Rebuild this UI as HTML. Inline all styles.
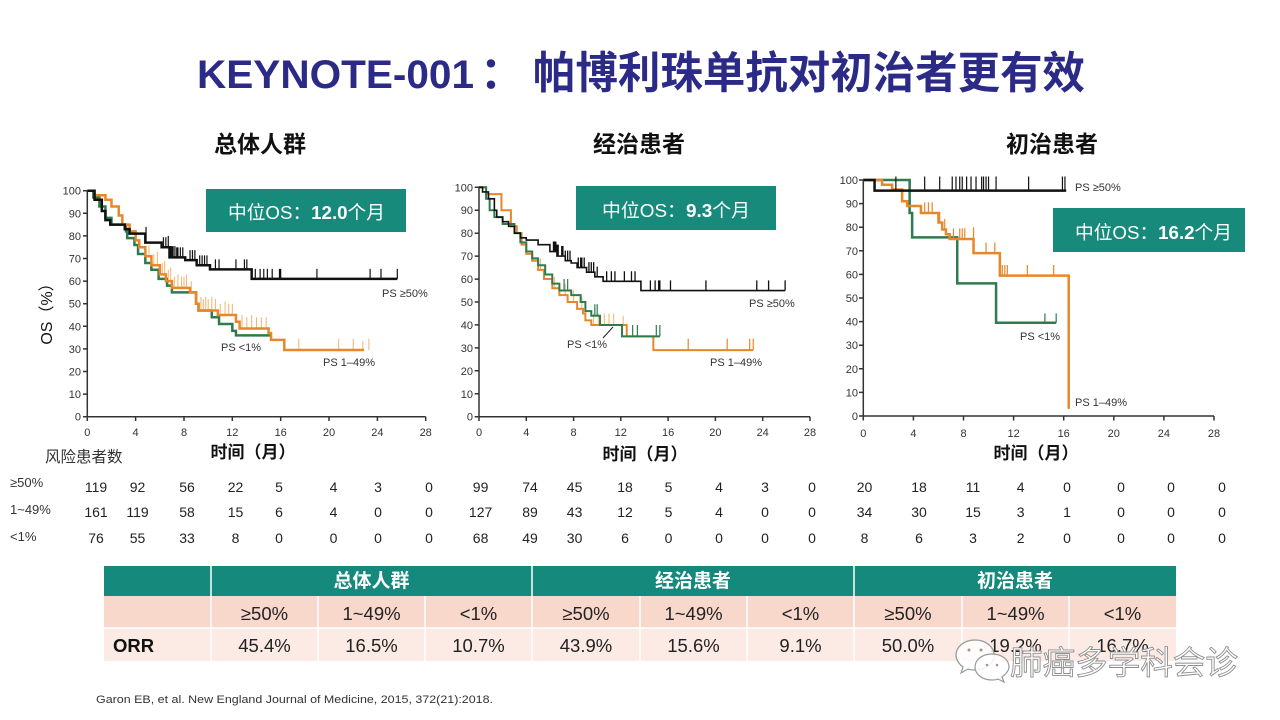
<!DOCTYPE html>
<html><head><meta charset="utf-8"><style>
html,body{margin:0;padding:0;background:#fff;}
svg{display:block;}
.c path{vector-effect:non-scaling-stroke;fill:none;}
text{font-family:"Liberation Sans","Noto Sans CJK SC",sans-serif;}
.n{font-family:"Liberation Sans",sans-serif;font-size:11px;fill:#333;}
.ax{stroke:#333;stroke-width:1.5;fill:none;}
.r{font-size:14px;fill:#222;text-anchor:middle;}
.t{font-size:18.5px;fill:#222;text-anchor:middle;}
</style></head><body>
<svg width="1280" height="720" viewBox="0 0 1280 720" xmlns="http://www.w3.org/2000/svg">
<rect width="1280" height="720" fill="#fff"/>

<!-- Title -->
<g font-weight="bold" fill="#2B2A86">
<text x="197" y="88" font-size="40" textLength="277" lengthAdjust="spacingAndGlyphs">KEYNOTE-001</text>
<text x="480" y="88" font-size="44">：</text>
<text x="533" y="88" font-size="44" textLength="552" lengthAdjust="spacingAndGlyphs">帕博利珠单抗对初治者更有效</text>
</g>

<!-- Subtitles -->
<g font-size="23" font-weight="bold" fill="#111" text-anchor="middle">
<text x="260" y="152">总体人群</text>
<text x="639" y="152">经治患者</text>
<text x="1052" y="152">初治患者</text>
</g>

<!-- OS label -->
<text transform="translate(52 310) rotate(-90)" text-anchor="middle" font-size="16" fill="#111">OS（%）</text>

<!-- ========== Chart 1 ========== -->
<path class="ax" d="M87.3 190.7V416.7H425.7 M83 190.7H87.3 M83 213.3H87.3 M83 235.9H87.3 M83 258.5H87.3 M83 281.1H87.3 M83 303.7H87.3 M83 326.3H87.3 M83 348.9H87.3 M83 371.5H87.3 M83 394.1H87.3 M83 416.7H87.3 M87.3 416.7V421 M135.6 416.7V421 M184 416.7V421 M232.3 416.7V421 M280.7 416.7V421 M329 416.7V421 M377.4 416.7V421 M425.7 416.7V421"/>
<g class="n" text-anchor="end">
<text x="81" y="194.7">100</text><text x="81" y="217.3">90</text><text x="81" y="239.9">80</text><text x="81" y="262.5">70</text><text x="81" y="285.1">60</text><text x="81" y="307.7">50</text><text x="81" y="330.3">40</text><text x="81" y="352.9">30</text><text x="81" y="375.5">20</text><text x="81" y="398.1">10</text><text x="81" y="420.7">0</text>
</g>
<g class="n" text-anchor="middle">
<text x="87.3" y="436">0</text><text x="135.6" y="436">4</text><text x="184" y="436">8</text><text x="232.3" y="436">12</text><text x="280.7" y="436">16</text><text x="329" y="436">20</text><text x="377.4" y="436">24</text><text x="425.7" y="436">28</text>
</g>
<g class="c" transform="translate(87.3 416.7) scale(12.086 -2.26)">
<path stroke="#2E7B4E" stroke-width="2.5" d="M0 100H0.5V97H1V93H1.5V88H2V85H3.2V82H3.3V79H3.9V76H4.2V72H4.8V68H5.3V65H5.9V61H6.6V58H7V55H9V50H9.2V47H10.3V44H10.9V41H12V38H12.3V36H15.25"/>
<path stroke="#F2B36E" stroke-width="1" d="M5.1 71v5M5.5 67v5M5.8 67v6M6.2 63v5M6.4 63v6M6.7 60v5M6.9 60v6M7.2 57v5M7.5 57v6M7.8 57v5M8 57v5M8.2 57v6M8.6 55v5M9.4 47v6M9.6 47v5M9.8 47v6M10 47v5M10.3 47v6M10.6 47v5M11 45v5M11.4 45v6M11.7 45v5M12 45v5M12.8 39v6M13.2 39v5M13.6 39v6M14 39v5M14.4 39v5M14.8 39v5M17.5 29.5v5M20.8 29.5v5M22 29.5v5M22.8 29.5v4M23.3 29.5v5"/>
<path stroke="#E8872A" stroke-width="2.5" d="M0 100H0.6V98H1.5V96H2V93H2.6V89H2.9V85H3.5V82H4V78H4.3V75H4.8V71H5.3V67H6V63H6.5V60H7V57H8.5V55H9V50H9.2V47H10.8V45H12.3V42H12.6V39H15V37H15.2V34H16.3V29.5H22.9"/>
<path stroke="#111" stroke-width="2.5" d="M0 100H0.6V96H1.2V91H1.5V87H1.9V85H3.1V83H3.5V81H4.8V77H6.15V75H6.8V70.5H8.1V69.3H9.05V67H10.15V65.2H13.6V61H25.65"/>
<path stroke="#111" stroke-width="1.2" d="M4.86 77v7M6.3 75v4.4M6.5 75v4.4M6.7 75v5M6.9 70.5v5M7 70.5v5M7.1 70.5v5M7.25 70.5v5M7.4 70.5v4.4M7.5 70.5v4.4M7.7 70.5v4.4M7.9 70.5v4.4M8.5 69.3v4.4M8.7 69.3v4.4M8.9 69.3v4.4M9.3 67v4.4M9.5 67v4.4M9.7 67v4.4M9.9 67v4.4M10.6 65.2v4.4M10.9 65.2v4.4M12.3 65.2v4.4M13 65.2v4.4M13.2 65.2v4.4M13.9 61v4.4M14.3 61v4.4M14.6 61v4.4M14.9 61v4.4M15.3 61v4.4M15.9 61v4.4M16 61v4.4M19 61v4.4M23.4 61v4.4M24.3 61v4.4M25.65 61v4.4"/>
</g>
<g class="n">
<text x="382" y="297">PS ≥50%</text>
<text x="221" y="351">PS &lt;1%</text>
<text x="323" y="366">PS 1–49%</text>
</g>
<rect x="206" y="189" width="200" height="43" fill="#188A7C"/>
<text x="228" y="219" font-size="18.5" fill="#fff" textLength="157" lengthAdjust="spacingAndGlyphs">中位OS：<tspan font-weight="bold">12.0</tspan>个月</text>

<!-- ========== Chart 2 ========== -->
<path class="ax" d="M479 187.3V416.7H810 M474.7 187.3H479 M474.7 210.2H479 M474.7 233.2H479 M474.7 256.1H479 M474.7 279.1H479 M474.7 302H479 M474.7 324.9H479 M474.7 347.9H479 M474.7 370.8H479 M474.7 393.8H479 M474.7 416.7H479 M479 416.7V421 M526.3 416.7V421 M573.6 416.7V421 M620.8 416.7V421 M668.1 416.7V421 M715.4 416.7V421 M762.7 416.7V421 M810 416.7V421"/>
<g class="n" text-anchor="end">
<text x="473" y="191.3">100</text><text x="473" y="214.2">90</text><text x="473" y="237.2">80</text><text x="473" y="260.1">70</text><text x="473" y="283.1">60</text><text x="473" y="306">50</text><text x="473" y="328.9">40</text><text x="473" y="351.9">30</text><text x="473" y="374.8">20</text><text x="473" y="397.8">10</text><text x="473" y="420.7">0</text>
</g>
<g class="n" text-anchor="middle">
<text x="479" y="436">0</text><text x="526.3" y="436">4</text><text x="573.6" y="436">8</text><text x="620.8" y="436">12</text><text x="668.1" y="436">16</text><text x="715.4" y="436">20</text><text x="762.7" y="436">24</text><text x="810" y="436">28</text>
</g>
<g class="c" transform="translate(479 416.7) scale(11.82 -2.294)">
<path stroke="#F2B36E" stroke-width="1" d="M5.2 64v5M6.4 56v5M7.3 53v5M8 50v5M8.7 47v5M9.7 40v5M10.1 40v5M10.6 40v5M11 40v5M11.4 40v5M12.2 40v4"/>
<path stroke="#E8872A" stroke-width="2" d="M0 100H0.6V97H1.9V90H2.7V83H3.2V80H3.6V75H4V71H4.5V68H5V64H5.5V60H6.2V56H6.8V53H7.5V50H8.3V47H8.8V45H9V42H9.5V40H12.5V35H14.75V29H23.2"/>
<path stroke="#E8872A" stroke-width="1.2" d="M17.7 29v5M21 29v5M22.9 29v5M23.2 29v5"/>
<path stroke="#2E7B4E" stroke-width="2" d="M0 100H0.6V95H0.9V90H1.3V87H2V84H3V80H3.5V76H4V72H4.5V69H5V66H5.6V62H6.2V58H6.8V55H7.8V53H8.6V50H9V46H9.5V44H10.24V40H12.1V35H15.3"/>
<path stroke="#2E7B4E" stroke-width="1.2" d="M7.2 55v5M7.5 55v5M9.8 44v5M10 44v5M13 35v5M13.4 35v5M15 35v5M15.3 35v5"/>
<path stroke="#111" stroke-width="1.6" d="M0 100H0.3V98H0.8V95H1.3V90H1.5V87H2V85H2.5V83H3V80H3.5V78H4V77H5V75H6V72H6.6V70H7.3V68H7.8V67H8.3V65H9.1V63H9.8V61H10.5V59H13.7V55H25.9"/>
<path stroke="#111" stroke-width="1.3" d="M6.3 72v4.4M6.4 72v4.4M6.5 72v4.4M6.6 70v5M6.7 70v5M7 70v4.4M7.1 70v4.4M7.3 68v4.4M7.5 68v4.4M7.7 68v4.4M8.4 65v4.4M8.6 65v4.4M8.7 65v4.4M8.9 65v4.4M9.3 63v4.4M9.5 63v4.4M9.7 63v4.4M10 61v4.4M10.8 59v4.4M11.2 59v4.4M11.5 59v4.4M12.3 59v4.4M12.9 59v4.4M13.2 59v4.4M14.5 55v4.4M14.9 55v4.4M15.2 55v4.4M15.3 55v4.4M16.2 55v4.4M19.2 55v4.4M23.5 55v4.4M24.5 55v4.4M25.9 55v4.4"/>
</g>
<path d="M603 338L613 327" stroke="#222" stroke-width="1"/>
<g class="n">
<text x="749" y="307">PS ≥50%</text>
<text x="710" y="366">PS 1–49%</text>
<text x="567" y="348">PS &lt;1%</text>
</g>
<rect x="576" y="186" width="200" height="44" fill="#188A7C"/>
<text x="602" y="217" font-size="18.5" fill="#fff" textLength="148" lengthAdjust="spacingAndGlyphs">中位OS：<tspan font-weight="bold">9.3</tspan>个月</text>

<!-- ========== Chart 3 ========== -->
<path class="ax" d="M863.3 180V416H1214 M859 180H863.3 M859 203.6H863.3 M859 227.2H863.3 M859 250.8H863.3 M859 274.4H863.3 M859 298H863.3 M859 321.6H863.3 M859 345.2H863.3 M859 368.8H863.3 M859 392.4H863.3 M859 416H863.3 M863.3 416V420.5 M913.4 416V420.5 M963.5 416V420.5 M1013.6 416V420.5 M1063.7 416V420.5 M1113.8 416V420.5 M1163.9 416V420.5 M1214 416V420.5"/>
<g class="n" text-anchor="end">
<text x="858" y="184">100</text><text x="858" y="207.6">90</text><text x="858" y="231.2">80</text><text x="858" y="254.8">70</text><text x="858" y="278.4">60</text><text x="858" y="302">50</text><text x="858" y="325.6">40</text><text x="858" y="349.2">30</text><text x="858" y="372.8">20</text><text x="858" y="396.4">10</text><text x="858" y="420">0</text>
</g>
<g class="n" text-anchor="middle">
<text x="863.3" y="437">0</text><text x="913.4" y="437">4</text><text x="963.5" y="437">8</text><text x="1013.6" y="437">12</text><text x="1063.7" y="437">16</text><text x="1113.8" y="437">20</text><text x="1163.9" y="437">24</text><text x="1214" y="437">28</text>
</g>
<g class="c" transform="translate(863.3 416) scale(12.525 -2.36)">
<path stroke="#2E7B4E" stroke-width="2.5" d="M0 100H3.7V86H3.9V75.7H7.5V56.2H10.6V39.5H15.4"/>
<path stroke="#2E7B4E" stroke-width="1.2" d="M14.5 39.5v4M15.4 39.5v4"/>
<path stroke="#E8872A" stroke-width="2.5" d="M0 100H1.5V98H2.3V96H3.1V91H3.5V89H4.6V86H6V82H6.3V79H6.6V77H6.9V75H8.8V69H10.9V59.5H16.4V3"/>
<path stroke="#E8872A" stroke-width="1.2" d="M4.9 86v4.5M5.2 86v4.5M5.5 86v4.5M6.1 82v4.5M6.5 79v4.5M7.2 75v4.5M7.7 75v4.5M7.9 75v4.5M8.1 75v4.5M8.8 69v11M9.8 69v4.5M10.5 69v4.5M11.1 59.5v4.5M11.3 59.5v4.5M11.5 59.5v4.5M13.1 59.5v4.5M15.2 59.5v4.5"/>
<path stroke="#111" stroke-width="2.5" d="M0 100H0.9V95.5H16.2"/>
<path stroke="#111" stroke-width="1.2" d="M2.6 95.5v6M4.9 95.5v6M6.1 95.5v6M7.1 95.5v6M7.4 95.5v6M7.7 95.5v6M7.9 95.5v6M8.25 95.5v6M8.6 95.5v6M9 95.5v6M9.45 95.5v6M9.6 95.5v6M9.8 95.5v6M10 95.5v6M10.6 95.5v6M13.2 95.5v6M15.9 95.5v6M16.1 95.5v6"/>
</g>
<g class="n">
<text x="1075" y="191">PS ≥50%</text>
<text x="1020" y="340">PS &lt;1%</text>
<text x="1075" y="406">PS 1–49%</text>
</g>
<rect x="1053" y="208" width="192" height="44" fill="#188A7C"/>
<text x="1075" y="239" font-size="18.5" fill="#fff" textLength="157" lengthAdjust="spacingAndGlyphs">中位OS：<tspan font-weight="bold">16.2</tspan>个月</text>

<!-- x-axis titles -->
<g font-size="17" font-weight="bold" fill="#111" text-anchor="middle">
<text x="253" y="458">时间（月）</text>
<text x="645" y="460">时间（月）</text>
<text x="1036" y="459">时间（月）</text>
</g>

<!-- risk table -->
<text x="45" y="462" font-size="15.5" fill="#333">风险患者数</text>
<g font-size="13" fill="#333">
<text x="10" y="487">≥50%</text>
<text x="10" y="514">1~49%</text>
<text x="10" y="541">&lt;1%</text>
</g>
<g class="r">
<text x="96" y="492">119</text><text x="137.5" y="492">92</text><text x="187" y="492">56</text><text x="235.5" y="492">22</text><text x="279" y="492">5</text><text x="333.5" y="492">4</text><text x="378" y="492">3</text><text x="429" y="492">0</text>
<text x="96" y="517">161</text><text x="137.5" y="517">119</text><text x="187" y="517">58</text><text x="235.5" y="517">15</text><text x="279" y="517">6</text><text x="333.5" y="517">4</text><text x="378" y="517">0</text><text x="429" y="517">0</text>
<text x="96" y="543">76</text><text x="137.5" y="543">55</text><text x="187" y="543">33</text><text x="235.5" y="543">8</text><text x="279" y="543">0</text><text x="333.5" y="543">0</text><text x="378" y="543">0</text><text x="429" y="543">0</text>

<text x="480.6" y="492">99</text><text x="530" y="492">74</text><text x="574.6" y="492">45</text><text x="625" y="492">18</text><text x="668.5" y="492">5</text><text x="719" y="492">4</text><text x="765" y="492">3</text><text x="812" y="492">0</text>
<text x="480.6" y="517">127</text><text x="530" y="517">89</text><text x="574.6" y="517">43</text><text x="625" y="517">12</text><text x="668.5" y="517">5</text><text x="719" y="517">4</text><text x="765" y="517">0</text><text x="812" y="517">0</text>
<text x="480.6" y="543">68</text><text x="530" y="543">49</text><text x="574.6" y="543">30</text><text x="625" y="543">6</text><text x="668.5" y="543">0</text><text x="719" y="543">0</text><text x="765" y="543">0</text><text x="812" y="543">0</text>

<text x="864.5" y="492">20</text><text x="919" y="492">18</text><text x="973" y="492">11</text><text x="1020.6" y="492">4</text><text x="1067" y="492">0</text><text x="1121" y="492">0</text><text x="1171" y="492">0</text><text x="1222" y="492">0</text>
<text x="864.5" y="517">34</text><text x="919" y="517">30</text><text x="973" y="517">15</text><text x="1020.6" y="517">3</text><text x="1067" y="517">1</text><text x="1121" y="517">0</text><text x="1171" y="517">0</text><text x="1222" y="517">0</text>
<text x="864.5" y="543">8</text><text x="919" y="543">6</text><text x="973" y="543">3</text><text x="1020.6" y="543">2</text><text x="1067" y="543">0</text><text x="1121" y="543">0</text><text x="1171" y="543">0</text><text x="1222" y="543">0</text>
</g>

<!-- ORR table -->
<rect x="104" y="566" width="1072" height="30" fill="#158A7C"/>
<rect x="104" y="596" width="1072" height="32" fill="#F9D8CC"/>
<rect x="104" y="628" width="1072" height="33" fill="#FCEBE4"/>
<path d="M211 566V661 M532 566V661 M854 566V661 M318 596V661 M425 596V661 M640 596V661 M747 596V661 M962 596V661 M1069 596V661 M104 628H1176" stroke="#fff" stroke-width="1.5"/>
<g font-size="19" font-weight="bold" fill="#fff" text-anchor="middle">
<text x="371.5" y="587">总体人群</text>
<text x="693" y="587">经治患者</text>
<text x="1015" y="587">初治患者</text>
</g>
<g class="t">
<text x="264.5" y="620">≥50%</text><text x="371.5" y="620">1~49%</text><text x="478.5" y="620">&lt;1%</text>
<text x="586" y="620">≥50%</text><text x="693.5" y="620">1~49%</text><text x="800.5" y="620">&lt;1%</text>
<text x="908" y="620">≥50%</text><text x="1015.5" y="620">1~49%</text><text x="1122.5" y="620">&lt;1%</text>
<text x="264.5" y="652">45.4%</text><text x="371.5" y="652">16.5%</text><text x="478.5" y="652">10.7%</text>
<text x="586" y="652">43.9%</text><text x="693.5" y="652">15.6%</text><text x="800.5" y="652">9.1%</text>
<text x="908" y="652">50.0%</text><text x="1015.5" y="652">19.2%</text><text x="1122.5" y="652">16.7%</text>
</g>
<text x="113" y="652" font-size="18.5" font-weight="bold" fill="#111">ORR</text>

<!-- footer -->
<text x="96" y="703" font-size="11" fill="#333" textLength="397" lengthAdjust="spacingAndGlyphs">Garon EB, et al. New England Journal of Medicine, 2015, 372(21):2018.</text>

<!-- watermark -->
<g stroke="#999" stroke-width="1.2" fill="#fff" fill-opacity="0.85">
<path d="M975 640c-11 0-19 7-19 15 0 5 3 9 7 12l-2 6 7-4c2 1 5 1 7 1 11 0 19-7 19-15s-8-15-19-15z"/>
<path d="M992 654c-10 0-17 6-17 13s7 13 17 13c2 0 4 0 6-1l6 3-2-5c4-3 7-6 7-10 0-7-7-13-17-13z"/>
</g>
<g fill="#999"><circle cx="969" cy="650" r="1.5"/><circle cx="981" cy="650" r="1.5"/><circle cx="987" cy="665" r="1.3"/><circle cx="997" cy="665" r="1.3"/></g>
<text x="1010" y="674" font-size="32.5" fill="#fff" stroke="#8f8f8f" stroke-width="0.9" textLength="228" lengthAdjust="spacingAndGlyphs">肺癌多学科会诊</text>
</svg>
</body></html>
